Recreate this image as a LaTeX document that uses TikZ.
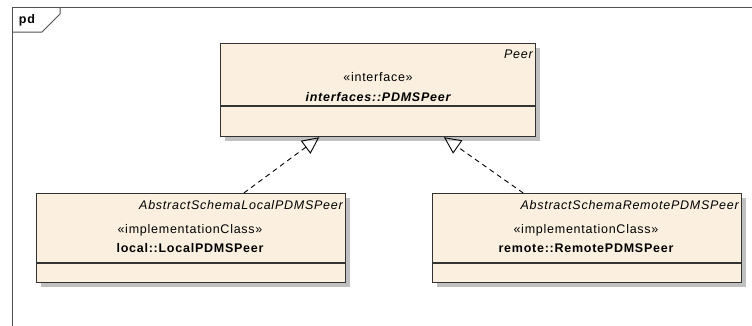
\documentclass[tikz,border=0pt]{standalone}
\usepackage{fontspec}
\setmainfont{Liberation Sans}[LetterSpace=6]
\usetikzlibrary{arrows.meta,shadows,calc}
\definecolor{boxfill}{HTML}{FBF0E0}
\definecolor{boxline}{HTML}{333333}
\definecolor{shadowgray}{HTML}{C0C0C0}
\definecolor{framecol}{HTML}{505050}
\tikzset{
  umlbox/.style={draw=boxline, line width=1.2pt, fill=boxfill, rectangle, inner sep=0pt,
    drop shadow={shadow xshift=4pt, shadow yshift=-4pt, fill=shadowgray, opacity=1}},
  txt/.style={inner sep=0pt, font=\fontsize{12.5}{14}\selectfont},
  realize/.style={draw=black, line width=0.9pt, dash pattern=on 5pt off 4pt,
    -{Triangle[open, length=17pt, width=16pt, line width=0.9pt]}},
}
\begin{document}
\begin{tikzpicture}[x=1pt,y=-1pt]
\useasboundingbox (0,0) rectangle (752,325);
% frame
\draw[framecol, line width=1pt] (12,330) -- (12,7) -- (760,7);
\draw[framecol, line width=1pt] (12,32) -- (42,32) -- (60,14) -- (60,7);
\node[txt, font=\fontsize{12.5}{14}\selectfont\bfseries] (pd) at (27,20) {pd};
% boxes
\node[umlbox, minimum width=315pt, minimum height=93pt, anchor=north west] (peer) at (220,43) {};
\draw[boxline, line width=1.2pt] (220,106) -- (535,106);
\node[umlbox, minimum width=309pt, minimum height=89pt, anchor=north west] (local) at (36,193) {};
\draw[boxline, line width=1.2pt] (36,263) -- (345,263);
\node[umlbox, minimum width=309pt, minimum height=89pt, anchor=north west] (remote) at (432,193) {};
\draw[boxline, line width=1.2pt] (432,263) -- (741,263);
% texts
\node[txt, font=\fontsize{12.5}{14}\selectfont\itshape, anchor=east] (peername) at (533,54) {Peer};
\node[txt] (peerst) at (378,77) {«interface»};
\node[txt, font=\fontsize{12.5}{14}\selectfont\bfseries\itshape] (peertitle) at (378,97) {interfaces::PDMSPeer};
\node[txt, font=\fontsize{12.5}{14}\selectfont\itshape, anchor=east] (localname) at (343,205) {AbstractSchemaLocalPDMSPeer};
\node[txt] (localst) at (190,230) {«implementationClass»};
\node[txt, font=\fontsize{12.5}{14}\selectfont\bfseries] (localtitle) at (190,248) {local::LocalPDMSPeer};
\node[txt, font=\fontsize{12.5}{14}\selectfont\itshape, anchor=east] (remotename) at (739,205) {AbstractSchemaRemotePDMSPeer};
\node[txt] (remotest) at (586,230) {«implementationClass»};
\node[txt, font=\fontsize{12.5}{14}\selectfont\bfseries] (remotetitle) at (586,248) {remote::RemotePDMSPeer};
% realizations
\draw[realize] ($(local.north west)!0.67!(local.north east)$) -- ($(peer.south west)!0.314!(peer.south east)$);
\draw[realize] ($(remote.north west)!0.294!(remote.north east)$) -- ($(peer.south west)!0.708!(peer.south east)$);
\end{tikzpicture}
\end{document}
